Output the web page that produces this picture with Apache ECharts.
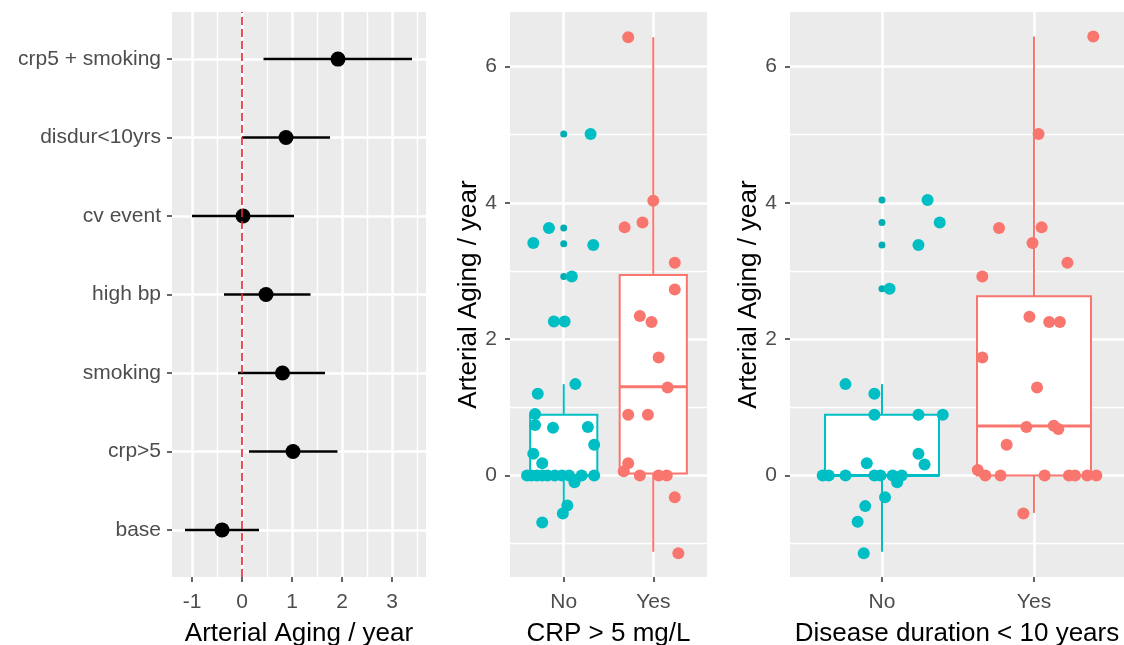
<!DOCTYPE html>
<html>
<head>
<meta charset="utf-8">
<script src="https://cdn.jsdelivr.net/npm/echarts@6/dist/echarts.min.js"></script>
<style>
  html, body { margin: 0; padding: 0; background: #fff; }
  #chart { width: 1124px; height: 645px; }
</style>
</head>
<body>
<div id="chart"></div>
<script>
// forest plot (bottom to top)
const forestLabels = ['base', 'crp>5', 'smoking', 'high bp', 'cv event', 'disdur<10yrs', 'crp5 + smoking'];
const forestEst = [-0.40, 1.02, 0.81, 0.48, 0.02, 0.88, 1.92];
const forestLow = [-1.14, 0.14, -0.08, -0.36, -1.00, 0.00, 0.43];
const forestHigh = [0.34, 1.91, 1.66, 1.37, 1.04, 1.76, 3.40];
const forestTicks = [-1, 0, 1, 2, 3];
const forestMinor = [-0.5, 0.5, 1.5, 2.5, 3.5];

// box panels
const groups = ['No', 'Yes'];
const groupColors = ['#00BFC4', '#F8766D'];
const agingTicks = [0, 2, 4, 6];
const agingMinor = [-1, 1, 3, 5];

// [min, q1, median, q3, max]
const crpBoxNo = [-0.60, 0, 0, 0.89, 1.34];
const crpBoxYes = [-1.12, 0.03, 1.30, 2.94, 6.43];
const crpOutNo = [5.01, 3.63, 3.40, 2.92, 2.26];
const crpPtsNo = [
  [1.30, 5.01], [0.835, 3.63], [0.66, 3.41], [1.33, 3.38], [1.09, 2.92], [0.89, 2.26], [1.01, 2.26],
  [0.71, 1.20], [1.13, 1.34], [0.68, 0.90], [0.68, 0.74], [0.88, 0.70], [1.27, 0.71], [1.34, 0.45],
  [0.66, 0.32], [0.76, 0.18], [0.59, 0], [0.64, 0], [0.70, 0], [0.76, 0], [0.82, 0], [0.90, 0],
  [0.98, 0], [1.06, 0], [1.20, 0], [1.34, 0], [1.12, -0.10], [1.04, -0.44], [0.99, -0.56], [0.76, -0.69]
];
const crpPtsYes = [
  [1.72, 6.43], [2.00, 4.03], [1.68, 3.64], [1.88, 3.71], [2.24, 3.12], [2.24, 2.73], [1.85, 2.34],
  [1.98, 2.25], [2.06, 1.73], [2.16, 1.29], [1.72, 0.89], [1.94, 0.89], [1.72, 0.18], [1.67, 0.06],
  [1.85, 0], [2.06, 0], [2.15, 0], [2.24, -0.32], [2.28, -1.14]
];

const durBoxNo = [-1.12, 0, 0, 0.89, 1.34];
const durBoxYes = [-0.55, 0, 0.725, 2.63, 6.44];
const durOutNo = [4.04, 3.71, 3.38, 2.74];
const durPtsNo = [
  [1.30, 4.04], [1.38, 3.71], [1.24, 3.38], [1.05, 2.74], [0.76, 1.34], [0.95, 1.20], [0.95, 0.89],
  [1.24, 0.89], [1.40, 0.89], [1.24, 0.32], [1.28, 0.16], [0.90, 0.18], [0.61, 0], [0.65, 0],
  [0.76, 0], [0.95, 0], [0.99, 0], [1.07, 0], [1.13, 0], [1.10, -0.10], [1.02, -0.32], [0.89, -0.45],
  [0.84, -0.68], [0.88, -1.14]
];
const durPtsYes = [
  [2.39, 6.44], [2.03, 5.01], [1.77, 3.63], [2.05, 3.64], [1.99, 3.41], [2.22, 3.12], [1.66, 2.92],
  [1.97, 2.33], [2.10, 2.25], [2.17, 2.25], [1.66, 1.73], [2.02, 1.29], [1.95, 0.71], [2.13, 0.73],
  [2.16, 0.68], [1.82, 0.45], [1.63, 0.08], [1.68, 0], [1.78, 0], [2.07, 0], [2.23, 0], [2.27, 0],
  [2.35, 0], [2.41, 0], [1.93, -0.56]
];

const chart = echarts.init(document.getElementById('chart'));

const tickStyle = { show: true, length: 5, lineStyle: { color: '#333333', width: 1.5 } };
const labelStyle = { color: '#4D4D4D', fontSize: 21, fontFamily: 'Liberation Sans' };
const titleStyle = { color: '#000', fontSize: 26, fontFamily: 'Liberation Sans' };
const majorLine = { show: true, lineStyle: { color: '#fff', width: 2.5 } };
const minorLine = { show: true, lineStyle: { color: '#fff', width: 1.4 } };
const noLine = { show: false, onZero: false };

function minorAxis(gridIndex, min, max, values) {
  return {
    type: 'value', gridIndex, min, max,
    axisLine: noLine,
    axisTick: { show: false, customValues: values },
    axisLabel: { show: false },
    splitLine: minorLine
  };
}

function renderBox(params, api) {
  const x = api.value(0);
  const hw = api.size([0.75, 0])[0] / 2;
  const cMin = api.coord([x, api.value(1)]);
  const cQ1 = api.coord([x, api.value(2)]);
  const cMed = api.coord([x, api.value(3)]);
  const cQ3 = api.coord([x, api.value(4)]);
  const cMax = api.coord([x, api.value(5)]);
  const color = groupColors[params.dataIndex];
  return {
    type: 'group',
    children: [
      { type: 'line', shape: { x1: cMax[0], y1: cMax[1], x2: cQ3[0], y2: cQ3[1] }, style: { stroke: color, lineWidth: 2 } },
      { type: 'line', shape: { x1: cQ1[0], y1: cQ1[1], x2: cMin[0], y2: cMin[1] }, style: { stroke: color, lineWidth: 2 } },
      { type: 'rect', shape: { x: cQ3[0] - hw, y: cQ3[1], width: 2 * hw, height: cQ1[1] - cQ3[1] }, style: { fill: '#fff', stroke: color, lineWidth: 2 } },
      { type: 'line', shape: { x1: cMed[0] - hw, y1: cMed[1], x2: cMed[0] + hw, y2: cMed[1] }, style: { stroke: color, lineWidth: 3 } }
    ]
  };
}

function groupAxis(gridIndex, min, max, name) {
  return {
    type: 'value', gridIndex, min, max,
    axisLine: noLine,
    axisTick: Object.assign({ customValues: [1, 2] }, tickStyle),
    axisLabel: Object.assign({ customValues: [1, 2], margin: 15, formatter: v => groups[v - 1] }, labelStyle),
    splitLine: majorLine,
    name, nameLocation: 'middle', nameGap: 44, nameTextStyle: titleStyle
  };
}

function agingAxis(gridIndex) {
  return {
    type: 'value', gridIndex, min: -1.49, max: 6.80,
    axisLine: noLine,
    axisTick: Object.assign({ customValues: agingTicks }, tickStyle),
    axisLabel: Object.assign({ customValues: agingTicks, margin: 13 }, labelStyle),
    splitLine: majorLine,
    name: 'Arterial Aging / year', nameLocation: 'middle', nameRotate: 90, nameGap: 28,
    nameTextStyle: titleStyle
  };
}

function boxSeries(xi, yi, boxNo, boxYes, outNo, ptsNo, ptsYes) {
  return [
    {
      type: 'custom', xAxisIndex: xi, yAxisIndex: yi,
      data: [[1].concat(boxNo), [2].concat(boxYes)],
      encode: { x: 0, y: [1, 2, 3, 4, 5] },
      renderItem: renderBox, z: 2
    },
    {
      type: 'scatter', xAxisIndex: xi, yAxisIndex: yi, z: 3,
      data: outNo.map(v => [1, v]), symbolSize: 7,
      itemStyle: { color: '#00AEB3', opacity: 1 }
    },
    {
      type: 'scatter', xAxisIndex: xi, yAxisIndex: yi, z: 4,
      data: ptsNo, symbolSize: 12,
      itemStyle: { color: groupColors[0], opacity: 1 }
    },
    {
      type: 'scatter', xAxisIndex: xi, yAxisIndex: yi, z: 4,
      data: ptsYes, symbolSize: 12,
      itemStyle: { color: groupColors[1], opacity: 1 }
    }
  ];
}

const gridBase = { top: 12, height: 565, show: true, backgroundColor: '#EBEBEB', borderWidth: 0, outerBoundsMode: 'none', containLabel: false };

const option = {
  animation: false,
  textStyle: { fontFamily: 'Liberation Sans' },
  grid: [
    Object.assign({ left: 172, width: 254 }, gridBase),
    Object.assign({ left: 510, width: 197 }, gridBase),
    Object.assign({ left: 790, width: 334 }, gridBase)
  ],
  xAxis: [
    {
      type: 'value', gridIndex: 0, min: -1.4, max: 3.68,
      axisLine: noLine,
      axisTick: Object.assign({ customValues: forestTicks }, tickStyle),
      axisLabel: Object.assign({ customValues: forestTicks, margin: 15 }, labelStyle),
      splitLine: majorLine,
      name: 'Arterial Aging / year', nameLocation: 'middle', nameGap: 44, nameTextStyle: titleStyle
    },
    minorAxis(0, -1.4, 3.68, forestMinor),
    groupAxis(1, 0.4, 2.6, 'CRP > 5 mg/L'),
    groupAxis(2, 0.395, 2.592, 'Disease duration < 10 years')
  ],
  yAxis: [
    {
      type: 'value', gridIndex: 0, min: 0.4, max: 7.6,
      axisLine: noLine,
      axisTick: Object.assign({ customValues: [1, 2, 3, 4, 5, 6, 7] }, tickStyle),
      axisLabel: Object.assign({ customValues: [1, 2, 3, 4, 5, 6, 7], margin: 11, formatter: v => forestLabels[v - 1] }, labelStyle),
      splitLine: majorLine
    },
    agingAxis(1),
    minorAxis(1, -1.49, 6.80, agingMinor),
    agingAxis(2),
    minorAxis(2, -1.49, 6.80, agingMinor)
  ],
  series: [
    {
      type: 'custom', xAxisIndex: 0, yAxisIndex: 0, z: 2,
      data: forestLabels.map((_, i) => [forestLow[i], forestHigh[i], i + 1]),
      encode: { x: [0, 1], y: 2 },
      renderItem: (params, api) => {
        const a = api.coord([api.value(0), api.value(2)]);
        const b = api.coord([api.value(1), api.value(2)]);
        return { type: 'line', shape: { x1: a[0], y1: a[1], x2: b[0], y2: b[1] }, style: { stroke: '#000', lineWidth: 2.5 } };
      }
    },
    {
      type: 'scatter', xAxisIndex: 0, yAxisIndex: 0, z: 3,
      data: forestEst.map((v, i) => [v, i + 1]),
      symbolSize: 15,
      itemStyle: { color: '#000', opacity: 1 },
      markLine: {
        silent: true, symbol: ['none', 'none'], label: { show: false },
        lineStyle: { color: '#E8262D', type: [8, 4], width: 1.6 },
        data: [{ xAxis: 0 }]
      }
    }
  ].concat(
    boxSeries(2, 1, crpBoxNo, crpBoxYes, crpOutNo, crpPtsNo, crpPtsYes),
    boxSeries(3, 3, durBoxNo, durBoxYes, durOutNo, durPtsNo, durPtsYes)
  )
};

chart.setOption(option);
</script>
</body>
</html>
